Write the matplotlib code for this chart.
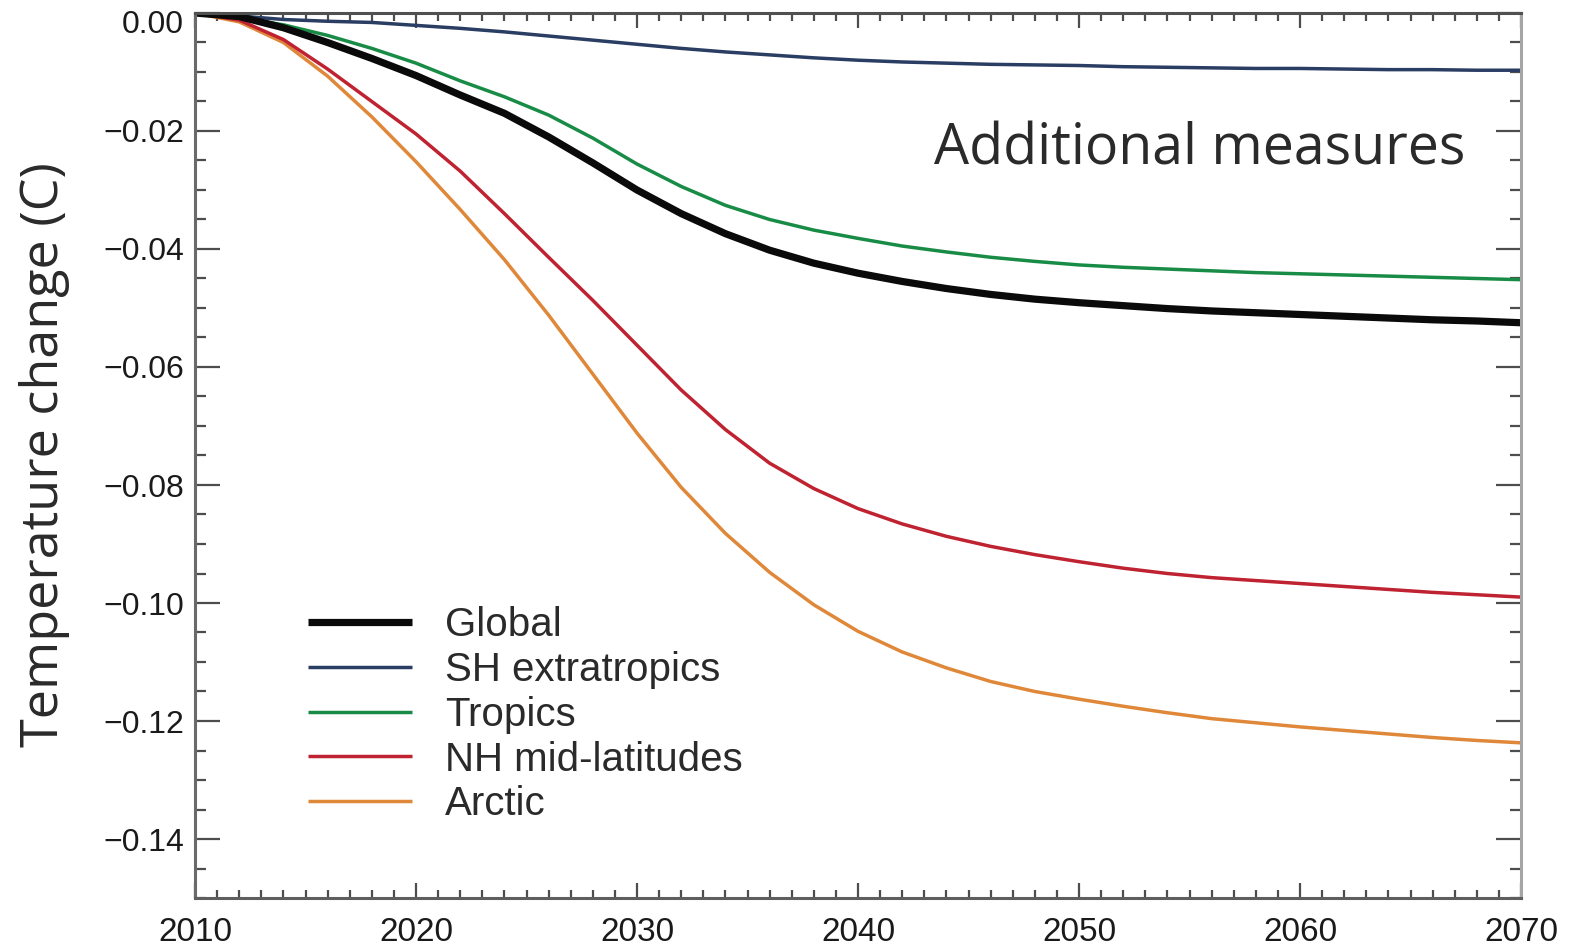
import matplotlib
matplotlib.use("Agg")
import matplotlib.pyplot as plt
from matplotlib.ticker import MultipleLocator, FixedLocator
from matplotlib.transforms import ScaledTranslation

years = list(range(2010, 2071, 2))

global_vals = [0, -0.0006, -0.0025, -0.0050, -0.0077, -0.0106, -0.0139, -0.0170, -0.0210, -0.0254,
               -0.0300, -0.0340, -0.0374, -0.0402, -0.0424, -0.0441, -0.0455, -0.0467, -0.0477, -0.0485,
               -0.0491, -0.0496, -0.0501, -0.0505, -0.0508, -0.0511, -0.0514, -0.0517, -0.0520, -0.0522, -0.0525]
sh_extratropics = [0, -0.0005, -0.0011, -0.0014, -0.0016, -0.0021, -0.0026, -0.0032, -0.0039, -0.0046,
                   -0.0053, -0.0060, -0.0066, -0.0071, -0.0076, -0.0080, -0.0083, -0.0085, -0.0087, -0.0088,
                   -0.0089, -0.0091, -0.0092, -0.0093, -0.0094, -0.0094, -0.0095, -0.0096, -0.0096, -0.0097, -0.0097]
tropics = [0, -0.0008, -0.0020, -0.0038, -0.0060, -0.0085, -0.0115, -0.0142, -0.0173, -0.0212,
           -0.0256, -0.0294, -0.0326, -0.0350, -0.0368, -0.0382, -0.0395, -0.0405, -0.0414, -0.0421,
           -0.0427, -0.0431, -0.0434, -0.0437, -0.0440, -0.0442, -0.0444, -0.0446, -0.0448, -0.0450, -0.0452]
nh_midlat = [0, -0.0012, -0.0045, -0.0095, -0.0150, -0.0205, -0.0268, -0.0340, -0.0414, -0.0487,
             -0.0563, -0.0639, -0.0706, -0.0763, -0.0806, -0.0840, -0.0866, -0.0887, -0.0904, -0.0918,
             -0.0930, -0.0941, -0.0950, -0.0957, -0.0962, -0.0967, -0.0972, -0.0977, -0.0982, -0.0986, -0.0990]
arctic = [0, -0.0015, -0.0050, -0.0107, -0.0176, -0.0252, -0.0333, -0.0418, -0.0512, -0.0612,
          -0.0712, -0.0804, -0.0882, -0.0948, -0.1003, -0.1048, -0.1083, -0.1110, -0.1133, -0.1150,
          -0.1163, -0.1175, -0.1186, -0.1196, -0.1203, -0.1210, -0.1216, -0.1222, -0.1228, -0.1233, -0.1237]

labels = ["Global", "SH extratropics", "Tropics", "NH mid-latitudes", "Arctic"]
x_ticks = [2010, 2020, 2030, 2040, 2050, 2060, 2070]
y_ticks = [0.00, -0.02, -0.04, -0.06, -0.08, -0.10, -0.12, -0.14]

W, H = 1569, 946
fig = plt.figure(figsize=(W / 100, H / 100), dpi=100)
ax = fig.add_axes([195 / W, 1 - 898 / H, (1521 - 195) / W, (898 - 13) / H])

series = [global_vals, sh_extratropics, tropics, nh_midlat, arctic]
colors = ["#0a0a0a", "#2a3d62", "#188c46", "#bf2230", "#e0883a"]
widths = [5.2, 2.5, 2.5, 2.5, 2.5]
order = [4, 3, 1, 2, 0]
lines = {}
for i in order:
    ln, = ax.plot(years, series[i], color=colors[i], lw=widths[i], solid_capstyle="butt",
                  solid_joinstyle="round", label=labels[i])
    lines[i] = ln

ax.set_xlim(2010, 2070)
ax.set_ylim(-0.15, 0.0)
ax.xaxis.set_major_locator(FixedLocator(x_ticks))
ax.xaxis.set_minor_locator(MultipleLocator(1))
ax.yaxis.set_major_locator(FixedLocator(y_ticks))
ax.yaxis.set_minor_locator(MultipleLocator(0.005))
tick_font = "Liberation Sans"
ax.set_xticklabels([str(v) for v in x_ticks], fontsize=24, family=tick_font, color="#1a1a1a")
ax.set_yticklabels(["0.00" if v == 0 else "\u2212%.2f" % abs(v) for v in y_ticks],
                   fontsize=23, family=tick_font, color="#1a1a1a")

ax.tick_params(axis="both", which="both", direction="in", top=True, right=True, color="#4d4d4d", width=1.6)
ax.tick_params(axis="y", which="major", length=18, pad=8)
ax.tick_params(axis="y", which="minor", length=8)
ax.tick_params(axis="x", which="major", length=11, pad=14)
ax.tick_params(axis="x", which="minor", length=6)

# the 0.00 label sits slightly below its tick in the reference
first = ax.yaxis.get_majorticklabels()[0]
first.set_transform(first.get_transform() + ScaledTranslation(0, -9 / 100, fig.dpi_scale_trans))

for side, col in [("left", "#6a6a6a"), ("bottom", "#5e5e5e"), ("top", "#505050"), ("right", "#a5a5a5")]:
    ax.spines[side].set_color(col)
    ax.spines[side].set_linewidth(2.2)

ax.text(0.958, 0.845, "Additional measures", transform=ax.transAxes, ha="right", va="center",
        fontsize=40, family="Open Sans", color="#2a2a2a")
fig.text(45 / W, 1 - 455 / H, "Temperature change (C)", rotation=90, ha="center", va="center",
         fontsize=37.5, family="Open Sans", color="#2a2a2a")

handles = [lines[i] for i in range(5)]
leg = ax.legend(handles, labels, loc="upper left", bbox_to_anchor=((308 - 195) / 1326, (898 - 606) / 885),
                frameon=False, prop={"family": tick_font, "size": 29}, handlelength=2.58,
                handletextpad=0.82, labelspacing=0.17, borderpad=0, borderaxespad=0)
for t in leg.get_texts():
    t.set_color("#2a2a2a")

fig.savefig("out.png", dpi=100)
